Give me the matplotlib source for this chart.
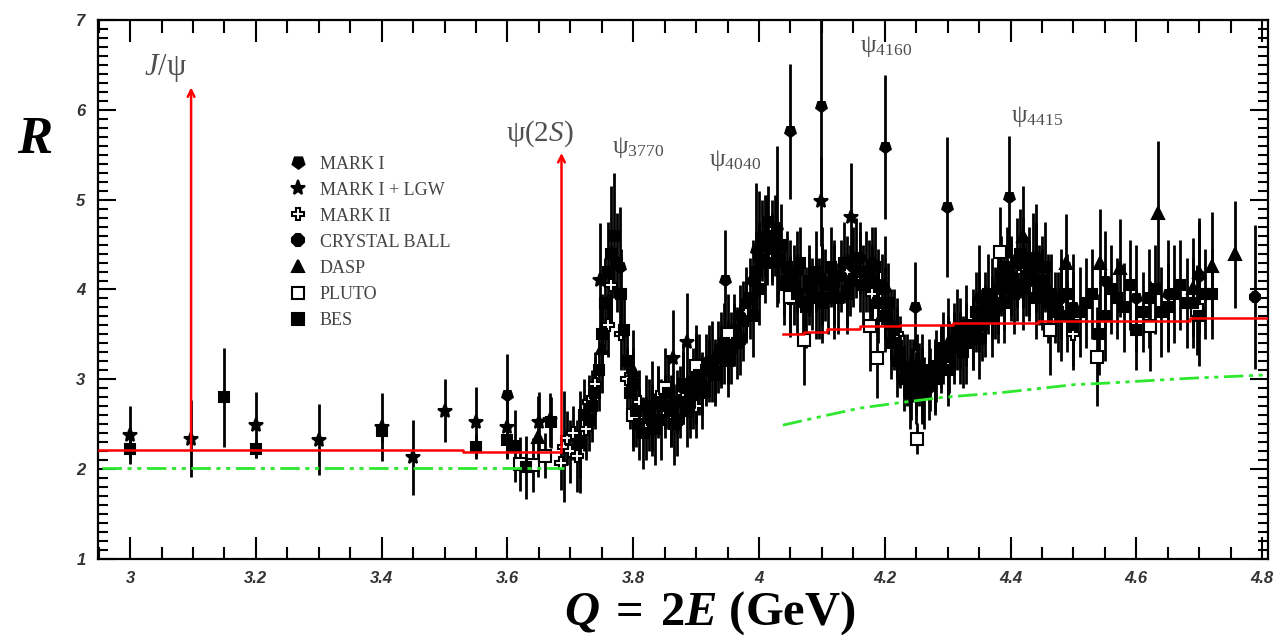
import matplotlib
matplotlib.use("Agg")
import matplotlib.pyplot as plt
from matplotlib.lines import Line2D
from matplotlib.ticker import MultipleLocator

plt.rcParams['mathtext.fontset'] = 'custom'
plt.rcParams['mathtext.rm'] = 'Liberation Serif'
plt.rcParams['mathtext.it'] = 'Liberation Serif:italic'
plt.rcParams['mathtext.bf'] = 'Liberation Serif:bold'
plt.rcParams['mathtext.bfit'] = 'Liberation Serif:italic:bold'

# ---- data: (Q in GeV, R, error) ----
markI_x = [3.60, 3.779, 3.83, 3.90, 3.946, 3.996, 4.028, 4.049, 4.098, 4.12, 4.20, 4.248,
           4.299, 4.35, 4.398, 4.44, 4.50, 4.55, 4.60, 4.65, 4.70]
markI_r = [2.83, 4.25, 2.70, 3.00, 4.11, 4.44, 4.70, 5.76, 6.04, 3.95, 5.59, 3.81,
           4.92, 3.90, 5.03, 4.35, 3.80, 4.10, 3.90, 3.95, 4.15]
markI_e = [0.45, 0.67, 0.50, 0.50, 0.55, 0.74, 0.90, 0.75, 1.00, 0.50, 0.80, 0.50,
           0.78, 0.60, 0.68, 0.60, 0.60, 0.55, 0.60, 0.60, 0.65]

lgw_x = [3.00, 3.097, 3.20, 3.30, 3.40, 3.45, 3.50, 3.55, 3.60, 3.65, 3.668, 3.747,
         3.864, 3.885, 4.098, 4.147]
lgw_r = [2.38, 2.34, 2.49, 2.33, 2.47, 2.13, 2.65, 2.53, 2.47, 2.53, 2.55, 4.11,
         3.24, 3.42, 4.98, 4.81]
lgw_e = [0.32, 0.43, 0.37, 0.40, 0.38, 0.42, 0.35, 0.38, 0.36, 0.33, 0.30, 0.63,
         0.53, 0.54, 0.50, 0.60]

markII_x = [3.686, 3.69, 3.695, 3.70, 3.705, 3.71, 3.716, 3.725, 3.73, 3.74, 3.76, 3.765,
            3.78, 3.79, 3.80, 3.81, 3.82, 3.84, 3.86, 3.88, 3.90, 3.92, 3.94, 3.96,
            3.98, 4.05, 4.10, 4.14, 4.18, 4.22, 4.26, 4.30, 4.34, 4.38, 4.42, 4.46, 4.50]
markII_r = [2.07, 2.25, 2.35, 2.20, 2.40, 2.15, 2.30, 2.45, 2.75, 2.95, 3.60, 4.05,
            3.50, 3.00, 2.60, 2.75, 2.45, 2.80, 2.60, 2.85, 2.70, 3.10, 3.25, 3.50,
            3.75, 3.90, 4.10, 4.20, 3.95, 3.50, 2.90, 3.20, 3.50, 3.90, 4.20, 3.90, 3.50]
markII_e = [0.30, 0.62, 0.30, 0.35, 0.30, 0.40, 0.57, 0.35, 0.30, 0.35, 0.35, 0.45,
            0.40, 0.35, 0.35, 0.35, 0.35, 0.35, 0.35, 0.35, 0.35, 0.35, 0.35, 0.35,
            0.35, 0.40, 0.40, 0.40, 0.40, 0.40, 0.40, 0.40, 0.40, 0.40, 0.40, 0.40, 0.40]

cb_x = [3.87, 3.88, 3.89, 3.90, 3.91, 3.92, 3.93, 3.94, 3.95, 3.96, 3.97, 3.98, 3.99,
        4.00, 4.01, 4.02, 4.03, 4.04, 4.05, 4.06, 4.07, 4.08, 4.09, 4.10, 4.11, 4.12,
        4.13, 4.14, 4.15, 4.16, 4.17, 4.18, 4.19, 4.20, 4.21, 4.22, 4.23, 4.24, 4.25,
        4.26, 4.27, 4.28, 4.29, 4.30, 4.31, 4.32, 4.33, 4.34, 4.35, 4.36, 4.37, 4.38,
        4.39, 4.40, 4.41, 4.42, 4.43, 4.44, 4.45, 4.46, 4.47, 4.48, 4.49, 4.50, 4.789]
cb_r = [2.75, 2.90, 2.70, 3.05, 2.95, 3.20, 3.10, 3.35, 3.30, 3.55, 3.70, 3.85, 4.10,
        4.35, 4.60, 4.45, 4.30, 4.10, 3.95, 4.20, 3.85, 4.00, 3.90, 4.10, 3.90, 4.05,
        4.15, 4.00, 4.25, 4.35, 4.20, 4.30, 4.05, 3.85, 3.60, 3.40, 3.15, 3.05, 2.95,
        3.10, 2.90, 3.05, 3.20, 3.30, 3.45, 3.35, 3.60, 3.50, 3.75, 3.65, 3.90, 3.80,
        4.00, 4.15, 4.05, 4.30, 4.10, 4.25, 4.00, 3.95, 3.80, 3.90, 3.70, 3.75, 3.92]
cb_e = [0.35, 0.40, 0.35, 0.40, 0.35, 0.40, 0.35, 0.40, 0.35, 0.40, 0.35, 0.40, 0.45,
        0.40, 0.45, 0.40, 0.45, 0.40, 0.40, 0.45, 0.40, 0.40, 0.45, 0.40, 0.40, 0.45,
        0.40, 0.40, 0.45, 0.40, 0.45, 0.40, 0.40, 0.40, 0.40, 0.40, 0.35, 0.40, 0.35,
        0.40, 0.35, 0.40, 0.35, 0.40, 0.40, 0.40, 0.45, 0.40, 0.45, 0.40, 0.45, 0.40,
        0.45, 0.45, 0.40, 0.50, 0.45, 0.50, 0.45, 0.45, 0.40, 0.45, 0.40, 0.45, 0.80]

dasp_x = [3.649, 3.75, 3.80, 3.90, 4.00, 4.10, 4.20, 4.30, 4.42, 4.48, 4.489, 4.542,
          4.574, 4.635, 4.69, 4.70, 4.72, 4.757]
dasp_r = [2.36, 3.35, 3.10, 3.00, 4.50, 4.15, 4.05, 3.40, 4.60, 3.95, 4.29, 4.30,
          4.24, 4.85, 4.02, 4.20, 4.26, 4.39]
dasp_e = [0.45, 0.50, 0.45, 0.50, 0.60, 0.55, 0.55, 0.50, 0.55, 0.50, 0.55, 0.60,
          0.55, 0.80, 0.55, 0.55, 0.60, 0.60]

pluto_x = [3.62, 3.64, 3.66, 3.80, 3.85, 3.90, 3.95, 4.012, 4.049, 4.071, 4.177, 4.187,
           4.251, 4.383, 4.463, 4.537, 4.622, 4.696]
pluto_r = [2.06, 2.05, 2.15, 2.60, 2.90, 3.15, 3.50, 4.55, 3.92, 3.44, 3.59, 3.24,
           2.34, 4.42, 3.55, 3.25, 3.59, 3.77]
pluto_e = [0.30, 0.30, 0.25, 0.40, 0.45, 0.45, 0.45, 0.50, 0.45, 0.50, 0.50, 0.45,
           0.17, 0.50, 0.50, 0.55, 0.50, 0.50]

bes_x = [3.00, 3.15, 3.20, 3.40, 3.55, 3.60, 3.612, 3.63, 3.67, 3.73, 3.74, 3.75, 3.755,
         3.76, 3.765, 3.77, 3.775, 3.78, 3.785, 3.79, 3.80, 3.81, 3.82, 3.83, 3.85, 3.87,
         3.89, 3.91, 3.93, 3.95, 3.97, 3.99, 4.00, 4.01, 4.015, 4.02, 4.03, 4.04, 4.05,
         4.06, 4.08, 4.10, 4.12, 4.14, 4.16, 4.18, 4.19, 4.20, 4.21, 4.22, 4.23, 4.24,
         4.245, 4.25, 4.255, 4.26, 4.27, 4.28, 4.29, 4.30, 4.31, 4.32, 4.33, 4.34, 4.35,
         4.36, 4.37, 4.38, 4.39, 4.40, 4.41, 4.42, 4.43, 4.44, 4.45, 4.46, 4.48, 4.50,
         4.52, 4.54, 4.56, 4.58, 4.60, 4.62, 4.64, 4.66, 4.68, 4.70, 4.72,
         3.715, 3.722, 3.735, 3.745, 3.795, 3.805, 3.815, 3.825, 3.835, 3.84, 3.845,
         3.855, 3.86, 3.865, 3.875, 3.88, 3.885, 3.895, 3.905, 3.915, 3.925, 3.935,
         3.945, 3.955, 3.965, 3.975, 3.985, 3.995, 4.005, 4.025, 4.035, 4.045, 4.055,
         4.065, 4.075, 4.085, 4.09, 4.095, 4.105, 4.115, 4.125, 4.135, 4.145, 4.155,
         4.165, 4.175, 4.185, 4.195, 4.205, 4.215, 4.225, 4.235, 4.242, 4.252, 4.262,
         4.272, 4.282, 4.292, 4.302, 4.315, 4.325, 4.345, 4.355, 4.365, 4.375, 4.385,
         4.395, 4.405, 4.415, 4.425, 4.435, 4.445, 4.455, 4.465, 4.475, 4.49, 4.51,
         4.53, 4.55, 4.57, 4.59, 4.61, 4.63, 4.65, 4.67, 4.69, 4.71]
bes_r = [2.22, 2.80, 2.22, 2.42, 2.25, 2.32, 2.26, 2.02, 2.52, 2.55, 2.85, 3.50, 3.85,
         4.20, 4.40, 4.60, 4.30, 3.95, 3.55, 3.20, 2.95, 2.50, 2.70, 2.55, 2.70, 2.55,
         2.80, 2.85, 3.05, 3.20, 3.45, 3.70, 4.00, 4.30, 4.75, 4.55, 4.35, 4.05, 4.15,
         3.95, 4.10, 3.85, 4.15, 3.95, 4.20, 4.10, 3.85, 3.70, 3.40, 3.20, 3.00, 2.85,
         3.10, 2.90, 3.05, 2.95, 3.10, 3.00, 3.25, 3.10, 3.35, 3.50, 3.40, 3.60, 3.45,
         3.80, 3.70, 4.00, 3.85, 4.10, 4.30, 4.00, 4.20, 3.90, 4.10, 3.85, 3.70, 3.60,
         3.85, 3.50, 4.00, 3.80, 3.55, 3.90, 3.75, 3.95, 3.85, 3.70, 3.95,
         2.30, 2.60, 2.70, 3.10, 2.85, 2.65, 2.40, 2.60, 2.45, 2.75, 2.55,
         2.85, 2.65, 2.50, 2.75, 2.95, 2.65, 2.90, 3.05, 3.10, 3.20, 3.25,
         3.40, 3.35, 3.40, 3.65, 3.90, 4.20, 4.55, 4.60, 4.50, 4.25, 4.05,
         4.30, 3.80, 3.95, 4.20, 3.90, 4.05, 4.25, 3.90, 4.30, 4.10, 4.35,
         4.05, 4.15, 4.25, 4.00, 3.85, 3.55, 3.30, 3.10, 2.95, 3.15, 2.85,
         3.00, 3.15, 3.35, 3.25, 3.55, 3.30, 3.75, 3.60, 3.95, 3.85, 4.15,
         4.25, 3.95, 4.40, 4.15, 4.35, 4.05, 4.25, 3.95, 3.75, 3.95, 3.75,
         3.95, 3.70, 3.90, 4.05, 3.75, 4.00, 3.80, 4.05, 3.85, 3.95]
bes_e = [0.10, 0.55, 0.10, 0.12, 0.14, 0.18, 0.40, 0.35, 0.28, 0.35, 0.40, 0.45, 0.50,
         0.55, 0.75, 0.70, 0.55, 0.50, 0.45, 0.40, 0.40, 0.40, 0.35, 0.40, 0.35, 0.40,
         0.35, 0.40, 0.35, 0.40, 0.40, 0.45, 0.40, 0.45, 0.40, 0.45, 0.40, 0.45, 0.40,
         0.45, 0.40, 0.45, 0.40, 0.45, 0.45, 0.40, 0.45, 0.40, 0.40, 0.40, 0.35, 0.40,
         0.35, 0.40, 0.35, 0.40, 0.35, 0.40, 0.35, 0.40, 0.40, 0.40, 0.45, 0.40, 0.45,
         0.40, 0.45, 0.40, 0.45, 0.45, 0.50, 0.45, 0.50, 0.45, 0.50, 0.45, 0.50, 0.45,
         0.50, 0.45, 0.50, 0.50, 0.45, 0.55, 0.50, 0.55, 0.50, 0.55, 0.50,
         0.40, 0.40, 0.40, 0.45, 0.40, 0.40, 0.40, 0.40, 0.40, 0.40, 0.45,
         0.40, 0.40, 0.45, 0.40, 0.45, 0.40, 0.45, 0.45, 0.40, 0.45, 0.40,
         0.45, 0.40, 0.40, 0.45, 0.45, 0.45, 0.45, 0.45, 0.45, 0.40, 0.45,
         0.40, 0.45, 0.40, 0.45, 0.45, 0.40, 0.45, 0.40, 0.45, 0.40, 0.45,
         0.45, 0.40, 0.45, 0.40, 0.45, 0.45, 0.40, 0.40, 0.40, 0.35, 0.40,
         0.35, 0.40, 0.40, 0.40, 0.45, 0.40, 0.45, 0.40, 0.45, 0.40, 0.45,
         0.45, 0.45, 0.50, 0.45, 0.50, 0.45, 0.50, 0.45, 0.45, 0.45, 0.50,
         0.50, 0.50, 0.45, 0.50, 0.45, 0.50, 0.50, 0.50, 0.50, 0.50]

# QCD / parton-model curves (red: with corrections, green: naive)
red_x1 = [2.95, 3.53, 3.686]
red_y1 = [2.21, 2.19, 2.19]
red_x2 = [4.038, 4.071, 4.108, 4.161, 4.224, 4.309, 4.444, 4.685, 4.81]
red_y2 = [3.50, 3.53, 3.56, 3.59, 3.61, 3.63, 3.65, 3.68, 3.68]
green_x1 = [2.955, 3.69]
green_y1 = [2.01, 2.01]
green_x2 = [4.038, 4.108, 4.161, 4.224, 4.293, 4.383, 4.50, 4.558, 4.68, 4.81]
green_y2 = [2.49, 2.60, 2.68, 2.74, 2.80, 2.85, 2.94, 2.96, 3.01, 3.05]

# narrow resonances (arrows): position, base, top
arrow_x = [3.097, 3.686]
arrow_y0 = [2.21, 2.19]
arrow_y1 = [6.25, 5.52]

fig = plt.figure(figsize=(12.78, 6.35), dpi=100)
ax = fig.add_axes([0.0767, 0.1197, 0.9155, 0.8488])

groups = [
    ("MARK I", markI_x, markI_r, markI_e, dict(marker=(5, 0, 180), mfc='black')),
    ("MARK I + LGW", lgw_x, lgw_r, lgw_e, dict(marker='*', mfc='black', ms=10)),
    ("MARK II", markII_x, markII_r, markII_e, dict(marker='P', mfc='white')),
    ("CRYSTAL BALL", cb_x, cb_r, cb_e, dict(marker='8', mfc='black')),
    ("DASP", dasp_x, dasp_r, dasp_e, dict(marker='^', mfc='black')),
    ("PLUTO", pluto_x, pluto_r, pluto_e, dict(marker='s', mfc='white')),
    ("BES", bes_x, bes_r, bes_e, dict(marker='s', mfc='black', ms=7)),
]

handles = []
for name, x, r, e, st in groups:
    kw = dict(ms=8, mec='black', mew=1.5)
    kw.update(st)
    ax.errorbar(x, r, yerr=e, xerr=0.005, fmt='none', ecolor='black', elinewidth=2.0,
                zorder=2)
    ax.plot(x, r, linestyle='none', zorder=3, **kw)
    hk = dict(kw)
    hk['ms'] = hk['ms'] + 1
    handles.append(Line2D([], [], linestyle='none', label=name, **hk))

# model curves over the data
ax.plot(red_x1, red_y1, color='red', lw=1.8, drawstyle='steps-post', zorder=5)
ax.plot(red_x2, red_y2, color='red', lw=1.8, drawstyle='steps-post', zorder=5)
dashdotdot = (0, (7, 2, 1.5, 2, 1.5, 2))
ax.plot(green_x1, green_y1, color='#2ee82e', lw=2, ls=dashdotdot, zorder=5)
ax.plot(green_x2, green_y2, color='#2ee82e', lw=2, ls=dashdotdot, zorder=5)

for xa, y0, y1 in zip(arrow_x, arrow_y0, arrow_y1):
    ax.annotate('', xy=(xa, y1), xytext=(xa, y0),
                arrowprops=dict(arrowstyle='->', color='red', lw=1.8,
                                mutation_scale=12, shrinkA=0, shrinkB=0),
                zorder=6)

# resonance labels
lab = dict(color='#505050', zorder=7)
ax.text(3.056, 6.47, r'$\mathit{J}/\mathrm{ψ}$', ha='center', va='center', fontsize=22, **lab)
ax.text(3.652, 5.74, r'$\mathrm{ψ}(2\mathit{S})$', ha='center', va='center', fontsize=21, **lab)
ax.text(3.767, 5.58, r'$\mathrm{ψ}_{\mathrm{3770}}$', ha='left', va='center', fontsize=18, **lab)
ax.text(3.920, 5.44, r'$\mathrm{ψ}_{\mathrm{4040}}$', ha='left', va='center', fontsize=18, **lab)
ax.text(4.160, 6.70, r'$\mathrm{ψ}_{\mathrm{4160}}$', ha='left', va='center', fontsize=18, **lab)
ax.text(4.400, 5.93, r'$\mathrm{ψ}_{\mathrm{4415}}$', ha='left', va='center', fontsize=18, **lab)

leg = ax.legend(handles=handles, loc='upper left', bbox_to_anchor=(0.1555, 0.765),
                frameon=False, handlelength=1.0, handletextpad=0.7,
                labelspacing=0.5, borderpad=0, prop={'family': 'Liberation Serif', 'size': 13})
for t in leg.get_texts():
    t.set_color('#444444')

ax.set_xlim(2.949, 4.8095)
ax.set_ylim(1, 7)
ax.xaxis.set_major_locator(MultipleLocator(0.2))
ax.xaxis.set_minor_locator(MultipleLocator(0.05))
ax.yaxis.set_major_locator(MultipleLocator(1))
ax.yaxis.set_minor_locator(MultipleLocator(0.1))
ax.tick_params(which='both', direction='in', top=True, right=True, width=1.5, color='black')
ax.tick_params(axis='x', which='major', length=16, pad=9)
ax.tick_params(axis='x', which='minor', length=9)
ax.tick_params(axis='y', which='major', length=13, pad=9)
ax.tick_params(axis='y', which='minor', length=7)
ax.set_xticks([3, 3.2, 3.4, 3.6, 3.8, 4, 4.2, 4.4, 4.6, 4.8])
ax.set_xticklabels(['3', '3.2', '3.4', '3.6', '3.8', '4', '4.2', '4.4', '4.6', '4.8'])
for t in ax.get_xticklabels() + ax.get_yticklabels():
    t.set_family('Liberation Sans')
    t.set_style('italic')
    t.set_weight('bold')
    t.set_fontsize(12)
    t.set_color('#333333')
for s in ax.spines.values():
    s.set_linewidth(1.6)

fig.text(0.027, 0.78, 'R', fontsize=38, family='Liberation Serif', weight='bold',
         style='italic', ha='center', va='center')
fig.text(0.5556, 0.0157, r'$\mathbfit{Q}\;\mathbf{=}\;\mathbf{2}\mathbfit{E}\ \mathbf{(GeV)}$',
         fontsize=35, ha='center', va='baseline')

fig.savefig('out.png', dpi=100)
